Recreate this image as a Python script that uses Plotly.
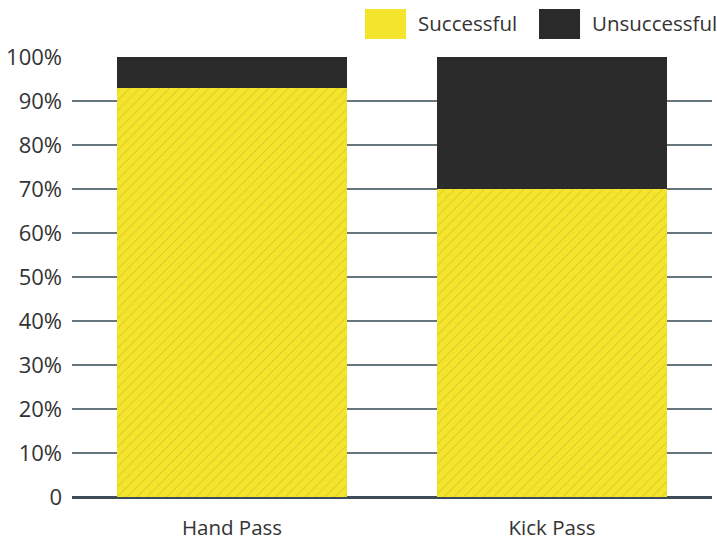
import plotly.graph_objects as go

# Pass types and their completion rates (% of attempts)
categories = ["Hand Pass", "Kick Pass"]
successful = [93, 70]
unsuccessful = [7, 30]

tick_values = [0, 10, 20, 30, 40, 50, 60, 70, 80, 90, 100]
tick_labels = ["0", "10%", "20%", "30%", "40%", "50%", "60%", "70%", "80%", "90%", "100%"]

YELLOW = "#f4e42c"
HATCH = "#cdbd33"
DARK = "#2b2b2b"
GRID = "#66757e"
TEXT = "#333333"
FONT = "Open Sans"

fig = go.Figure()
fig.add_trace(go.Bar(
    x=categories, y=successful, name="Successful",
    marker=dict(color=YELLOW, line=dict(width=0),
                pattern=dict(shape="/", fgcolor=HATCH, bgcolor=YELLOW,
                             fillmode="replace", size=7, solidity=0.12)),
))
fig.add_trace(go.Bar(
    x=categories, y=unsuccessful, name="Unsuccessful",
    marker=dict(color=DARK, line=dict(width=0)),
))

# Legend drawn as large swatches above the plot area
legend_items = [
    (0.4578, 0.5219, YELLOW, "Successful", 0.5375),
    (0.7297, 0.7938, DARK, "Unsuccessful", 0.8094),
]
for x0, x1, color, label, tx in legend_items:
    fig.add_shape(type="rect", xref="paper", yref="paper",
                  x0=x0, x1=x1, y0=1.041, y1=1.109,
                  fillcolor=color, line=dict(width=0), layer="above")
    fig.add_annotation(xref="paper", yref="paper", x=tx, y=1.077,
                       text=label, showarrow=False, xanchor="left", yanchor="middle",
                       font=dict(family=FONT, size=20.5, color=TEXT))

fig.update_layout(
    barmode="stack",
    bargap=0.28,
    showlegend=False,
    width=717, height=539,
    margin=dict(l=72, r=5, t=57, b=42, autoexpand=False),
    paper_bgcolor="white",
    plot_bgcolor="white",
    font=dict(family=FONT, size=20, color=TEXT),
)
fig.update_yaxes(
    range=[0, 100],
    tickvals=tick_values, ticktext=tick_labels,
    showgrid=True, gridcolor=GRID, gridwidth=1.5,
    zeroline=True, zerolinecolor="#3d4d57", zerolinewidth=3,
    ticklabelstandoff=9,
    tickfont=dict(family=FONT, size=22, color=TEXT),
    showline=False, automargin=False,
)
fig.update_xaxes(
    showgrid=False, showline=False,
    ticklabelstandoff=16, automargin=False,
    tickfont=dict(family=FONT, size=20.5, color=TEXT),
)

fig.write_html("out.html")
